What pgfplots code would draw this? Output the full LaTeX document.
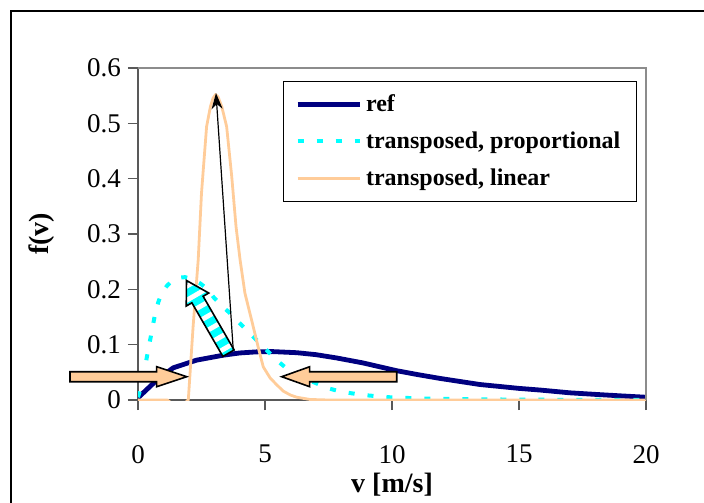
\documentclass[border=0pt]{standalone}
\usepackage{fontspec}
\setmainfont{Liberation Serif}
\usepackage{pgfplots}
\pgfplotsset{compat=1.18}
\usetikzlibrary{arrows.meta,calc}
\definecolor{navyref}{RGB}{0,0,128}
\definecolor{cyanp}{RGB}{0,255,255}
\definecolor{peach}{RGB}{255,204,153}
\newcommand{\blockarrow}[5]{% tail, tip, half body, half head, head length
  ($(#2)!#5!(#1)$) coordinate (bah)
  ($(#1)!#3!90:(#2)$) -- ($(bah)!#3!90:(#2)$) -- ($(bah)!#4!90:(#2)$) -- (#2)
  -- ($(bah)!#4!-90:(#2)$) -- ($(bah)!#3!-90:(#2)$) -- ($(#1)!#3!-90:(#2)$) -- cycle}
\begin{document}
\begin{tikzpicture}
\path[use as bounding box] (0,0) rectangle (352pt,-251pt);
\draw[line width=1pt] (5.5pt,-262pt) -- (5.5pt,-5.5pt) -- (362pt,-5.5pt);
\begin{axis}[
  at={(69pt,-200pt)}, anchor=south west,
  scale only axis, width=254pt, height=166pt,
  xmin=0, xmax=20, ymin=0, ymax=0.6,
  xtick={0,5,10,15,20}, ytick={0,0.1,0.2,0.3,0.4,0.5,0.6},
  axis x line*=bottom, axis y line*=left,
  axis line style={draw=black!65, line width=0.8pt},
  tick align=outside, major tick length=5pt,
  every tick/.style={black!65, line width=0.8pt},
  /pgf/number format/assume math mode=true,
  yticklabel style={/pgf/number format/fixed, /pgf/number format/precision=1,
     font=\fontsize{13.5}{16}\selectfont},
  xticklabel style={font=\fontsize{13.5}{16}\selectfont, yshift=-14pt},
  every axis x label/.style={at={(rel axis cs:0.5,0)}, yshift=-42.5pt, anchor=center,
     font=\bfseries\fontsize{14}{16}\selectfont},
  every axis y label/.style={at={(rel axis cs:0,0.5)}, xshift=-48pt, rotate=90, anchor=center,
     font=\bfseries\fontsize{14}{16}\selectfont},
  xlabel={v [m/s]}, ylabel={f(v)},
  clip mode=individual,
  legend cell align=left,
  legend image code/.code={\draw[#1] (0pt,0pt) -- (31pt,0pt);},
  legend style={at={(0.982,0.961)}, anchor=north east, draw=black, line width=0.5pt,
     font=\bfseries\fontsize{12}{14}\selectfont, row sep=4.6pt, inner xsep=6pt, inner ysep=4.5pt,
     nodes={inner sep=2pt}},
]
\addplot[navyref, line width=2.4pt, line join=round] coordinates {
(0,0.004) (0.74,0.036) (1.38,0.058) (2.3,0.072) (3.36,0.081) (4.0,0.085) (4.67,0.087)
(5.3,0.0875) (6.25,0.0855) (7.0,0.082) (7.82,0.076) (8.86,0.067) (10.18,0.053) (11.0,0.046)
(11.89,0.039) (13.46,0.028) (15,0.021) (15.83,0.018) (17,0.013) (18.06,0.010) (19,0.0075) (20,0.005)};
\addlegendentry{ref}
\addplot[cyanp, line width=2pt, dash pattern=on 3pt off 6.5pt] coordinates {
(0,0.005) (0.14,0.027) (0.28,0.060) (0.41,0.093) (0.54,0.123) (0.67,0.155) (0.8,0.177)
(0.93,0.193) (1.15,0.207) (1.39,0.217) (1.6,0.221) (1.85,0.222) (2.1,0.219) (2.44,0.211)
(2.75,0.200) (2.97,0.186) (3.3,0.170) (3.62,0.157) (4.15,0.132) (4.54,0.114) (5.07,0.090)
(5.46,0.072) (5.85,0.057) (6.4,0.042) (7.03,0.030) (7.5,0.021) (8,0.015) (8.86,0.009)
(9.9,0.005) (11,0.003) (12,0.002) (14,0.001) (16,0.0005) (20,0.0002)};
\addlegendentry{transposed, proportional}
\addplot[peach, line width=1.4pt, line join=round] coordinates {
(0,0) (1.15,0) (1.6,-0.015) (1.98,0) (2.17,0.133) (2.37,0.253) (2.5,0.374) (2.7,0.494)
(2.85,0.530) (2.95,0.545) (3.05,0.552) (3.15,0.548) (3.3,0.530) (3.49,0.494) (3.69,0.404)
(3.86,0.313) (4.02,0.253) (4.21,0.193) (4.47,0.145) (4.73,0.096) (4.93,0.060) (5.2,0.040)
(5.45,0.028) (5.72,0.016) (6.0,0.009) (6.25,0.005) (6.77,0.001) (7.5,0) (20,0)};
\addlegendentry{transposed, linear}
\draw[black!45, line width=0.6pt] (rel axis cs:0,1) -- (rel axis cs:1,1) -- (rel axis cs:1,0);
\coordinate (A1t) at (axis cs:-2.677,0.0421);
\coordinate (A1h) at (axis cs:1.917,0.0421);
\coordinate (A2t) at (axis cs:10.185,0.0421);
\coordinate (A2h) at (axis cs:5.657,0.0421);
\coordinate (A3b) at (axis cs:3.563,0.0846);
\coordinate (A3t) at (axis cs:1.909,0.2160);
\coordinate (L0) at (axis cs:3.75,0.0904);
\coordinate (L1) at (axis cs:3.07,0.5547);
\end{axis}
% block arrows
\filldraw[fill=peach, draw=black, line width=0.8pt, line join=miter] \blockarrow{A1t}{A1h}{2.5pt}{5pt}{15pt};
\filldraw[fill=peach, draw=black, line width=0.8pt, line join=miter] \blockarrow{A2t}{A2h}{2.5pt}{5pt}{14pt};
\begin{scope}
  \clip \blockarrow{A3b}{A3t}{3.25pt}{6.5pt}{11pt};
  \fill[cyanp] ($(A3b)!0.5!(A3t)$) circle (40pt);
  \foreach \s in {0.07,0.215,0.36,0.505,0.65,0.795,0.94} {
    \path ($(A3b)!\s!(A3t)$) coordinate (P);
    \draw[white, line width=2.4pt] ($(P)!12pt!90:(A3t)$) -- ($(P)!12pt!-90:(A3t)$);
  }
\end{scope}
\draw[black, line width=0.8pt, line join=miter] \blockarrow{A3b}{A3t}{3.25pt}{6.5pt}{11pt};
\draw[black, line width=0.6pt, -{Stealth[length=8pt, width=5.5pt, inset=2.5pt]}] (L0) -- (L1);
\end{tikzpicture}
\end{document}
